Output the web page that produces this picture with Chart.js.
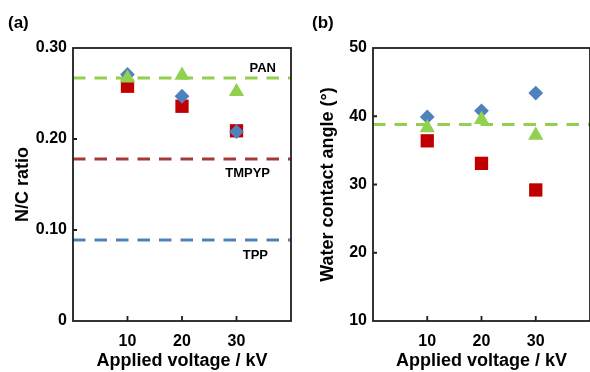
<!DOCTYPE html>
<html>
<head>
<meta charset="utf-8">
<script src="https://cdn.jsdelivr.net/npm/chart.js@4.4.1/dist/chart.umd.min.js"></script>
<style>
html, body { margin: 0; padding: 0; background: #fff; overflow: hidden; width: 590px; height: 372px; }
.panel { position: absolute; top: 0; }
#chart_a { left: 0; }
#chart_b { left: 300px; }
</style>
</head>
<body>
<canvas id="chart_a" class="panel" width="295" height="372"></canvas>
<canvas id="chart_b" class="panel" width="292" height="372"></canvas>
<script>
// shared x axis
var voltages = [10, 20, 30];
var xTicks = [10, 20, 30];

// (a) N/C ratio
var ncSquare = [0.258, 0.236, 0.209];
var ncDiamond = [0.271, 0.247, 0.208];
var ncTriangle = [0.267, 0.270, 0.252];
var ncRefNames = ["PAN", "TMPYP", "TPP"];
var ncRefValues = [0.267, 0.178, 0.089];
var ncTicks = [0, 0.10, 0.20, 0.30];

// (b) water contact angle
var wcaSquare = [36.4, 33.1, 29.2];
var wcaDiamond = [39.9, 40.8, 43.4];
var wcaTriangle = [38.3, 39.5, 37.2];
var wcaRefValues = [38.8];
var wcaTicks = [10, 20, 30, 40, 50];

var FONT = '"Liberation Sans", Arial, sans-serif';
var RED = '#c00000', BLUE = '#4f81bd', GREEN = '#92d050';

function pts(ys) {
    return voltages.map(function(v, i) { return {x: v, y: ys[i]}; });
}
function refLine(v, color) {
    return {
        type: 'line', data: [{x: 0, y: v}, {x: 40, y: v}],
        borderColor: color, borderWidth: 3, borderDash: [12.5, 9],
        pointRadius: 0, order: 4
    };
}

// frame, inward ticks, reference labels and panel letter
var framePlugin = {
    id: 'frame',
    afterDraw: function(chart, args, opts) {
        var ctx = chart.ctx, a = chart.chartArea;
        var xs = chart.scales.x, ys = chart.scales.y;
        ctx.save();
        ctx.strokeStyle = '#1e1e1e';
        ctx.lineWidth = 1.8;
        ctx.strokeRect(a.left, a.top, a.right - a.left, a.bottom - a.top);
        ctx.beginPath();
        xTicks.forEach(function(t) {
            var px = xs.getPixelForValue(t);
            ctx.moveTo(px, a.bottom); ctx.lineTo(px, a.bottom - 5);
        });
        opts.yTicks.forEach(function(t) {
            var py = ys.getPixelForValue(t);
            ctx.moveTo(a.left, py); ctx.lineTo(a.left + 4, py);
        });
        ctx.stroke();

        ctx.fillStyle = '#000';
        ctx.font = 'bold 13px ' + FONT;
        ctx.textAlign = 'right';
        ctx.textBaseline = 'middle';
        (opts.labels || []).forEach(function(name, i) {
            var st = opts.labelStyle[i];
            ctx.fillText(name, a.right - st.dx, ys.getPixelForValue(opts.values[i]) + st.dy);
        });

        ctx.font = 'bold 17px ' + FONT;
        ctx.textAlign = 'left';
        ctx.fillText(opts.letter, opts.letterX, 23);
        ctx.restore();
    }
};

function makeChart(id, cfg) {
    return new Chart(id, {
        type: 'scatter',
        data: {
            datasets: [
                {data: pts(cfg.tri), pointStyle: 'triangle', pointRadius: 8.8, backgroundColor: GREEN, borderWidth: 0, order: 1},
                {data: pts(cfg.dia), pointStyle: 'rectRot', pointRadius: 7.4, backgroundColor: BLUE, borderWidth: 0, order: 2},
                {data: pts(cfg.sq), pointStyle: 'rect', pointRadius: 9.4, backgroundColor: RED, borderWidth: 0, order: 3}
            ].concat(cfg.refs)
        },
        options: {
            responsive: false,
            animation: false,
            layout: {autoPadding: false, padding: {left: 0, top: 48, right: cfg.padRight, bottom: 0}},
            plugins: {
                legend: {display: false},
                tooltip: {enabled: false},
                frame: cfg.frame
            },
            scales: {
                x: {
                    type: 'linear', min: 0, max: 40,
                    afterBuildTicks: function(s) { s.ticks = xTicks.map(function(v) { return {value: v}; }); },
                    afterFit: function(s) { s.height = 51; s.paddingLeft = 0; s.paddingRight = 0; },
                    grid: {display: false, drawTicks: false},
                    border: {display: false},
                    ticks: {color: '#000', font: {family: FONT, size: 16, weight: 'bold'}, padding: 11, maxRotation: 0},
                    title: {display: true, text: 'Applied voltage / kV', color: '#000',
                            font: {family: FONT, size: 18, weight: 'bold'}, padding: {top: 0, bottom: 0}}
                },
                y: {
                    min: cfg.yMin, max: cfg.yMax,
                    afterBuildTicks: function(s) { s.ticks = cfg.yTicks.map(function(v) { return {value: v}; }); },
                    afterFit: function(s) { s.width = 73; },
                    grid: {display: false, drawTicks: false},
                    border: {display: false},
                    ticks: {color: '#000', font: {family: FONT, size: 16, weight: 'bold'}, padding: 6, callback: cfg.fmt},
                    title: {display: true, text: cfg.yTitle, color: '#000',
                            font: {family: FONT, size: 18, weight: 'bold'}, padding: {top: cfg.titlePad, bottom: 0}}
                }
            }
        },
        plugins: [framePlugin]
    });
}

makeChart('chart_a', {
    tri: ncTriangle, dia: ncDiamond, sq: ncSquare,
    refs: [refLine(ncRefValues[0], GREEN), refLine(ncRefValues[1], '#a5393a'), refLine(ncRefValues[2], '#4f81bd')],
    yMin: 0, yMax: 0.30, yTicks: ncTicks,
    fmt: function(v) { return v === 0 ? '0' : v.toFixed(2); },
    yTitle: 'N/C ratio', titlePad: 12, padRight: 4,
    frame: {letter: '(a)', letterX: 8, yTicks: ncTicks.slice(1, 3), labels: ncRefNames, values: ncRefValues,
            labelStyle: [{dx: 15, dy: -10}, {dx: 21, dy: 14}, {dx: 23, dy: 15}]}
});

makeChart('chart_b', {
    tri: wcaTriangle, dia: wcaDiamond, sq: wcaSquare,
    refs: [refLine(wcaRefValues[0], GREEN)],
    yMin: 10, yMax: 50, yTicks: wcaTicks,
    fmt: function(v) { return String(v); },
    yTitle: 'Water contact angle (\u00b0)', titlePad: 17, padRight: 2,
    frame: {letter: '(b)', letterX: 12, yTicks: wcaTicks.slice(1, 4), labels: [], values: [], labelStyle: []}
});
</script>
</body>
</html>
